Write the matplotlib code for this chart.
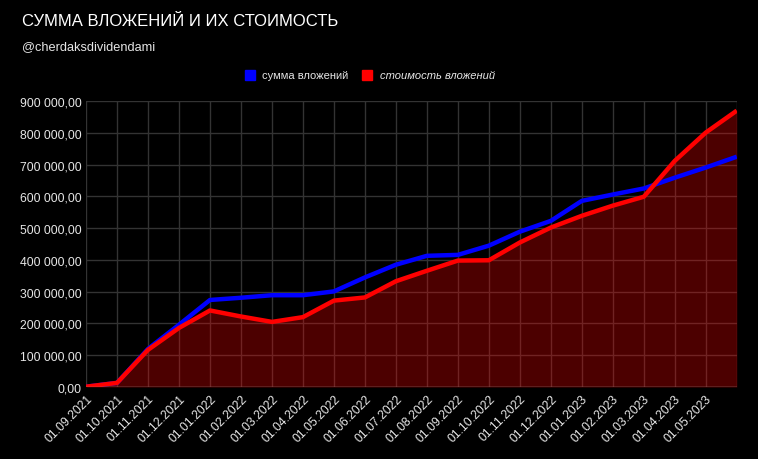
import matplotlib
matplotlib.use("Agg")
import matplotlib.pyplot as plt
from matplotlib.patches import Rectangle
from matplotlib.ticker import FuncFormatter

plt.rcParams["font.family"] = ["Liberation Sans", "DejaVu Sans"]

# ---------------------------------------------------------------------------
# Data
# ---------------------------------------------------------------------------
dates = [
    "01.09.2021", "01.10.2021", "01.11.2021", "01.12.2021",
    "01.01.2022", "01.02.2022", "01.03.2022", "01.04.2022",
    "01.05.2022", "01.06.2022", "01.07.2022", "01.08.2022",
    "01.09.2022", "01.10.2022", "01.11.2022", "01.12.2022",
    "01.01.2023", "01.02.2023", "01.03.2023", "01.04.2023",
    "01.05.2023", "01.06.2023",
]
# last point has no visible label in the chart
shown_labels = dates[:-1] + [""]

invested = [
    1000, 13000, 120000, 196000, 274000, 281000, 289000, 289000,
    301000, 345000, 385000, 413000, 416000, 445000, 489000, 523000,
    586000, 606000, 625000, 659000, 691000, 725000,
]
value = [
    1000, 13000, 117000, 186000, 241000, 222000, 205000, 220000,
    272000, 282000, 333000, 366000, 398000, 399000, 455000, 502000,
    539000, 571000, 599000, 712000, 801000, 870000,
]

BG = "#000000"
BLUE = "#0000ff"
RED = "#ff0000"
GRID = "#333333"
TXT = "#e6e6e6"

fig = plt.figure(figsize=(7.58, 4.60), dpi=100, facecolor=BG)
ax = fig.add_axes([0.1135, 0.1565, 0.8585, 0.6215], facecolor=BG)

x = list(range(len(dates)))

ax.fill_between(x, value, 0, color=RED, alpha=0.3, lw=0, zorder=2)
ax.plot(x, invested, color=BLUE, lw=3.2, zorder=3, solid_capstyle="butt")
ax.plot(x, value, color=RED, lw=3.2, zorder=4, solid_capstyle="butt")

ax.set_xlim(0, len(dates) - 1)
ax.set_ylim(0, 900000)
ax.set_yticks(range(0, 900001, 100000))
ax.yaxis.set_major_formatter(
    FuncFormatter(lambda v, _: f"{v:,.2f}".replace(",", " ").replace(".", ","))
)
ax.set_xticks(x)
ax.set_xticklabels(shown_labels, rotation=45, ha="right", rotation_mode="anchor")

ax.grid(True, color=GRID, lw=1, zorder=1)
ax.axhline(0, color="#888888", lw=1, zorder=5)
for s in ax.spines.values():
    s.set_visible(False)
ax.tick_params(axis="both", length=0, colors=TXT, labelsize=8.8)
ax.tick_params(axis="y", pad=3)
ax.tick_params(axis="x", pad=4)

# Title and subtitle
fig.text(22 / 758, 1 - 22 / 460, "СУММА ВЛОЖЕНИЙ И ИХ СТОИМОСТЬ",
         color="#ffffff", fontsize=12, va="center", ha="left")
fig.text(22 / 758, 1 - 47 / 460, "@cherdaksdividendami",
         color=TXT, fontsize=9.2, va="center", ha="left")

# Legend
ly = 1 - 76 / 460
sq = 10
fig.patches.append(Rectangle((245 / 758, ly - sq / 2 / 460), sq / 758, sq / 460,
                             transform=fig.transFigure, color=BLUE))
fig.text(262 / 758, ly, "сумма вложений", color=TXT, fontsize=8,
         va="center", ha="left")
fig.patches.append(Rectangle((362 / 758, ly - sq / 2 / 460), sq / 758, sq / 460,
                             transform=fig.transFigure, color=RED))
fig.text(380 / 758, ly, "стоимость вложений", color=TXT, fontsize=8,
         va="center", ha="left", style="italic")

fig.savefig("out.png", dpi=100, facecolor=BG)
